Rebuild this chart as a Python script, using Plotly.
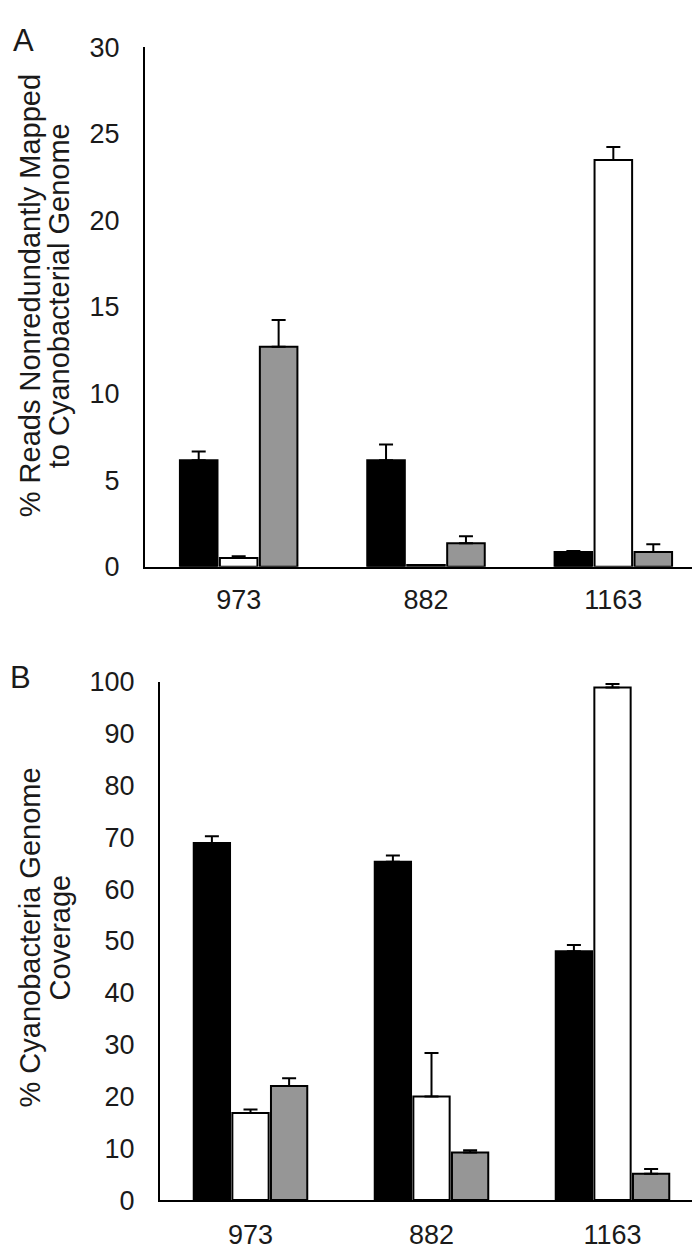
import plotly.graph_objects as go

categories = ["973", "882", "1163"]

# Panel A: % reads nonredundantly mapped
a_black = [6.15, 6.15, 0.85]
a_black_err = [0.5, 0.9, 0.05]
a_white = [0.5, 0.1, 23.5]
a_white_err = [0.1, 0.0, 0.75]
a_gray = [12.7, 1.35, 0.85]
a_gray_err = [1.55, 0.4, 0.45]

# Panel B: % genome coverage
b_black = [68.9, 65.3, 48.0]
b_black_err = [1.3, 1.2, 1.2]
b_white = [16.8, 20.0, 98.9]
b_white_err = [0.7, 8.4, 0.7]
b_gray = [22.0, 9.2, 5.1]
b_gray_err = [1.5, 0.4, 0.9]

a_ticks = [0, 5, 10, 15, 20, 25, 30]
b_ticks = [0, 10, 20, 30, 40, 50, 60, 70, 80, 90, 100]

a_title = ["% Reads Nonredundantly Mapped", "to Cyanobacterial Genome"]
b_title = ["% Cyanobacteria Genome", "Coverage"]

FONT = "Arial, Liberation Sans, sans-serif"
TXT = "#1a1a1a"
fills = ["#000000", "#ffffff", "#969696"]

W, H = 700, 1251

fig = go.Figure()

def add_panel(vals, errs, xa, ya):
    for v, e, c in zip(vals, errs, fills):
        fig.add_trace(go.Bar(
            x=categories, y=v,
            marker=dict(color=c, line=dict(color="#000000", width=2)),
            error_y=dict(type="data", symmetric=False, array=e,
                         arrayminus=[0] * len(e), color="#000000",
                         thickness=2, width=7),
            xaxis=xa, yaxis=ya, showlegend=False,
        ))

add_panel([a_black, a_white, a_gray], [a_black_err, a_white_err, a_gray_err], "x", "y")
add_panel([b_black, b_white, b_gray], [b_black_err, b_white_err, b_gray_err], "x2", "y2")

def px_x(p):
    return p / W

def px_y(p):
    return 1 - p / H

axis_common = dict(showgrid=False, zeroline=False, showline=True,
                   linecolor="#000000", linewidth=2,
                   tickfont=dict(family=FONT, size=27, color=TXT))

fig.update_layout(
    width=W, height=H,
    margin=dict(l=0, r=0, t=0, b=0),
    paper_bgcolor="white", plot_bgcolor="white",
    barmode="group", bargap=0.36, bargroupgap=0.06,
    xaxis=dict(domain=[px_x(137), px_x(699)], anchor="y",
               ticks="", ticklabelstandoff=8, **axis_common),
    yaxis=dict(domain=[px_y(557), px_y(25)], anchor="x",
               range=[0, 30], tickvals=a_ticks, ticks="",
               ticklabelstandoff=18, **axis_common),
    xaxis2=dict(domain=[px_x(152), px_x(695)], anchor="y2",
                ticks="", ticklabelstandoff=10, **axis_common),
    yaxis2=dict(domain=[px_y(1206), px_y(675)], anchor="x2",
                range=[0, 100], tickvals=b_ticks, ticks="",
                ticklabelstandoff=18, **axis_common),
)

ann_font = dict(family=FONT, size=29, color=TXT)

def add_title(lines, xs, yc):
    for line, xc in zip(lines, xs):
        fig.add_annotation(text=line, x=px_x(xc), y=px_y(yc),
                           xref="paper", yref="paper", textangle=-90,
                           showarrow=False, font=ann_font,
                           xanchor="center", yanchor="middle")

add_title(a_title, [22, 51], 280)
add_title(b_title, [22, 52], 937)

fig.add_annotation(text="A", x=px_x(15), y=px_y(18), xref="paper", yref="paper",
                   showarrow=False, font=dict(family=FONT, size=31, color=TXT),
                   xanchor="center", yanchor="middle")
fig.add_annotation(text="B", x=px_x(12), y=px_y(671), xref="paper", yref="paper",
                   showarrow=False, font=dict(family=FONT, size=31, color=TXT),
                   xanchor="center", yanchor="middle")

fig.write_html("out.html")
